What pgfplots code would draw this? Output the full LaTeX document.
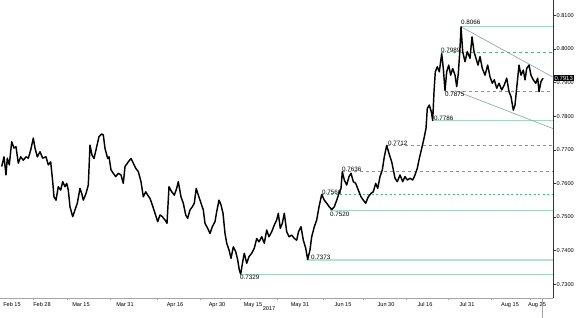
\documentclass[border=0pt]{standalone}
\usepackage{fontspec}
\setmainfont{Liberation Sans}
\usepackage{pgfplots}
\usepackage{pgfplotstable}
\pgfplotsset{compat=1.18}
\definecolor{lvlsolid}{RGB}{160,220,188}
\definecolor{lvldash}{RGB}{70,185,125}
\definecolor{chan}{RGB}{140,155,178}
\pgfplotstableread{
x y
1.7 0.7650
4 0.7679
6 0.7625
7.3 0.7675
9.3 0.7655
11.7 0.7724
14 0.7705
16 0.7709
18.3 0.7660
20.7 0.7679
23.3 0.7669
26 0.7679
28.3 0.7675
30.7 0.7699
33.3 0.7735
35 0.7705
37.3 0.7679
40 0.7694
42.7 0.7675
46 0.7679
48.3 0.7655
50.7 0.7664
52.7 0.7605
54 0.7560
56 0.7550
58.3 0.7590
60.7 0.7580
62.7 0.7605
65 0.7590
66.7 0.7600
68.3 0.7580
70 0.7530
72.7 0.7501
75 0.7521
77.3 0.7541
80 0.7585
81.7 0.7570
83.3 0.7550
86 0.7570
88.3 0.7595
90 0.7714
92 0.7684
94 0.7674
96.7 0.7709
99 0.7739
101.7 0.7747
103.3 0.7744
105 0.7704
107.7 0.7674
109 0.7679
111 0.7640
113.3 0.7630
115.7 0.7620
118.3 0.7630
121 0.7625
123.3 0.7600
125 0.7650
128.3 0.7664
131 0.7674
133.3 0.7660
135.7 0.7645
138.3 0.7635
141 0.7605
143.3 0.7560
145.7 0.7575
147.7 0.7565
150 0.7555
152.3 0.7536
155 0.7511
157.7 0.7486
160 0.7506
162.3 0.7501
165 0.7491
167 0.7481
169 0.7590
171.7 0.7575
174.3 0.7565
176.7 0.7585
178.3 0.7605
181 0.7560
183.3 0.7541
185.7 0.7506
187.7 0.7496
190 0.7521
192.3 0.7530
194.3 0.7541
196.2 0.7585
198.3 0.7565
201 0.7541
203.3 0.7521
205 0.7481
207.7 0.7466
210 0.7451
212.3 0.7471
215 0.7486
216.7 0.7516
219 0.7550
221 0.7536
223 0.7511
225 0.7451
226.7 0.7422
229 0.7402
231 0.7377
233.3 0.7411
235.7 0.7397
237.7 0.7372
239.3 0.7342
240.7 0.7330
242.7 0.7367
244.3 0.7392
246.7 0.7362
249 0.7382
251.7 0.7392
254.3 0.7407
256.7 0.7436
259 0.7426
261.7 0.7441
264.3 0.7422
266.7 0.7461
269 0.7441
271.7 0.7456
274.3 0.7476
276.7 0.7491
278.3 0.7511
280.3 0.7466
282.3 0.7481
284.3 0.7511
286.7 0.7456
289 0.7441
291.7 0.7446
294.3 0.7436
296.7 0.7431
298.5 0.7456
301 0.7471
303.3 0.7431
305.7 0.7407
307.7 0.7373
310 0.7402
311.7 0.7441
314.3 0.7471
316.7 0.7491
319 0.7530
321.7 0.7567
324.3 0.7550
326.7 0.7541
329.3 0.7530
331.7 0.7522
334.3 0.7530
336.7 0.7550
339 0.7570
341 0.7585
342.3 0.7635
344.3 0.7610
346.7 0.7595
349 0.7620
351 0.7630
353.3 0.7605
355.7 0.7600
358.3 0.7580
361 0.7560
363.3 0.7550
365.7 0.7541
368.3 0.7560
371 0.7570
373.3 0.7575
375.7 0.7600
377.7 0.7585
380 0.7620
382.3 0.7640
384.3 0.7679
386.7 0.7713
389 0.7689
391.7 0.7664
394 0.7630
395 0.7615
397.3 0.7605
400 0.7625
402.7 0.7605
405 0.7620
407.3 0.7610
410 0.7615
412.7 0.7610
415 0.7625
417.3 0.7645
419.3 0.7674
421.7 0.7704
424 0.7734
426 0.7764
427.3 0.7823
429.3 0.7833
431.3 0.7813
432.7 0.7787
434 0.7873
435.3 0.7932
437.3 0.7947
439.3 0.7932
441.7 0.7986
443.3 0.7942
445 0.7876
446.7 0.7932
448.7 0.7952
450.7 0.7922
452.7 0.7942
455 0.7922
456.7 0.7888
458.3 0.7927
460 0.8002
461 0.8066
462.7 0.7992
465 0.7962
467.3 0.7992
470 0.7972
472 0.8036
474 0.7992
476 0.7972
478 0.7952
480 0.7977
482.3 0.7942
485 0.7922
487.7 0.7952
490 0.7917
492.3 0.7898
494.3 0.7908
496.7 0.7883
499 0.7898
501.7 0.7878
504.3 0.7893
506.7 0.7913
509 0.7873
511 0.7858
513.3 0.7818
515 0.7833
517 0.7893
519 0.7952
521 0.7922
523.3 0.7937
525 0.7908
526.7 0.7942
529 0.7952
531 0.7922
533.3 0.7908
535.7 0.7898
537.7 0.7913
539 0.7873
541 0.7903
543 0.7913
}\pricedata
\begin{document}
\begin{tikzpicture}
\begin{axis}[
  scale only axis, width=553pt, height=298pt,
  xmin=0, xmax=553, ymin=0.72587, ymax=0.81456,
  axis x line*=bottom, axis y line*=right,
  x axis line style={-, draw=gray!70},
  y axis line style={-, draw=black!80},
  clip=false,
  tick align=outside,
  major tick length=2.5pt, minor tick length=2pt,
  xtick={12,42,81,125,175,217,253,300,343,386,425,467,510,537},
  xticklabels={Feb 15,Feb 28,Mar 15,Mar 31,Apr 16,Apr 30,May 15,May 31,Jun 15,Jun 30,Jul 16,Jul 31,Aug 15,Aug 25},
  minor xtick={33,67,110,157,200,240,277,323,363,406,448,491,530},
  major x tick style={draw=none},
  minor x tick style={draw=gray!70},
  xticklabel style={font=\fontsize{5.6}{6}\selectfont, inner sep=1pt, yshift=-0.5pt},
  ytick={0.73,0.74,0.75,0.76,0.77,0.78,0.79,0.80,0.81},
  yticklabels={0.7300,0.7400,0.7500,0.7600,0.7700,0.7800,0.7900,0.8000,0.8100},
  yticklabel style={font=\fontsize{5.6}{6}\selectfont, inner sep=1pt},
  y tick style={draw=black!80},
]
% support / resistance levels
\addplot[lvlsolid, line width=0.9pt] coordinates {(461,0.8066) (553,0.8066)};
\addplot[lvldash, line width=0.8pt, dash pattern=on 3pt off 3pt] coordinates {(441,0.7989) (553,0.7989)};
\addplot[lvldash, line width=0.8pt, dash pattern=on 3pt off 3pt] coordinates {(445,0.7875) (553,0.7875)};
\addplot[lvlsolid, line width=0.9pt] coordinates {(433,0.7786) (553,0.7786)};
\addplot[lvldash, line width=0.8pt, dash pattern=on 3pt off 3pt] coordinates {(387,0.7712) (553,0.7712)};
\addplot[lvldash, line width=0.8pt, dash pattern=on 3pt off 3pt] coordinates {(342,0.7636) (553,0.7636)};
\addplot[lvldash, line width=0.8pt, dash pattern=on 2pt off 2.5pt] coordinates {(322,0.7566) (553,0.7566)};
\addplot[lvlsolid, line width=0.9pt] coordinates {(330,0.7520) (553,0.7520)};
\addplot[lvlsolid!80, line width=1.8pt] coordinates {(308,0.7373) (553,0.7373)};
\addplot[lvlsolid, line width=0.9pt] coordinates {(240,0.7329) (553,0.7329)};
% channel
\addplot[chan, line width=0.6pt] coordinates {(461,0.8066) (553,0.7916)};
\addplot[chan, line width=0.6pt] coordinates {(455,0.7876) (553,0.7763)};
% price
\addplot[black, line width=1.45pt, line join=round] table[x=x,y=y] {\pricedata};
% labels
\begin{scope}[every node/.style={font=\fontsize{6.3}{7}\selectfont, inner sep=0pt, anchor=west}]
\node at (axis cs:461,0.8080) {0.8066};
\node at (axis cs:441,0.7997) {0.7989};
\node at (axis cs:445,0.7866) {0.7875};
\node at (axis cs:434,0.7795) {0.7786};
\node at (axis cs:388,0.7720) {0.7712};
\node at (axis cs:342,0.7642) {0.7636};
\node at (axis cs:322,0.7574) {0.7566};
\node at (axis cs:330,0.7509) {0.7520};
\node at (axis cs:311,0.7381) {0.7373};
\node at (axis cs:240,0.7321) {0.7329};
\end{scope}
\node[fill=black, text=white, font=\fontsize{6}{7}\selectfont, inner sep=0.8pt, anchor=west] at (axis cs:553.5,0.7913) {0.7913};
\node[font=\fontsize{5.6}{6}\selectfont] at (axis cs:269,0.72587) [yshift=-11pt] {2017};
\draw[gray!70] (axis cs:542,0.72587) -- ++(0,-14pt);
\end{axis}
\pgfresetboundingbox
\useasboundingbox (0pt,-19pt) rectangle (577pt,298pt);
\end{tikzpicture}
\end{document}
